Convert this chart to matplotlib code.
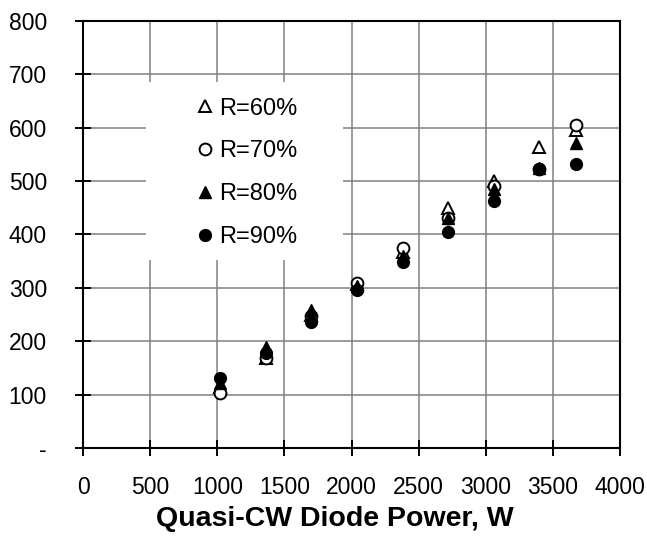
import matplotlib
matplotlib.use("Agg")
import matplotlib.pyplot as plt
from matplotlib.patches import Rectangle

plt.rcParams['font.family'] = ['Liberation Sans', 'DejaVu Sans']

# Data
diode_power = [1020, 1360, 1700, 2040, 2380, 2720, 3060, 3400, 3670]
r60 = [115, 168, 250, 308, 368, 449, 500, 563, 595]
r70 = [103, 168, 248, 309, 375, 430, 490, 522, 605]
r80 = [122, 190, 258, 303, 360, 430, 485, 524, 571]
r90 = [131, 178, 236, 296, 348, 405, 462, 522, 532]

x_ticks = [0, 500, 1000, 1500, 2000, 2500, 3000, 3500, 4000]
y_ticks = [0, 100, 200, 300, 400, 500, 600, 700, 800]
y_tick_labels = ['-', '100', '200', '300', '400', '500', '600', '700', '800']

fig = plt.figure(figsize=(6.47, 5.45), dpi=100)
ax = fig.add_axes([0.1283, 0.178, 0.83, 0.7835])

ms = 9
ax.plot(diode_power, r60, linestyle='none', marker='^', ms=ms, mfc='white', mec='black', mew=1.4, label='R=60%', zorder=3)
ax.plot(diode_power, r70, linestyle='none', marker='o', ms=ms - 0.5, mfc='white', mec='black', mew=1.4, label='R=70%', zorder=3)
ax.plot(diode_power, r80, linestyle='none', marker='^', ms=ms, mfc='black', mec='black', label='R=80%', zorder=3)
ax.plot(diode_power, r90, linestyle='none', marker='o', ms=ms - 0.5, mfc='black', mec='black', label='R=90%', zorder=3)

ax.set_xlim(0, 4000)
ax.set_ylim(0, 800)
ax.set_xticks(x_ticks)
ax.set_yticks(y_ticks)
ax.set_yticklabels(y_tick_labels)

ax.grid(True, color='#808080', linewidth=1.1, zorder=0)
ax.set_axisbelow(True)
for s in ax.spines.values():
    s.set_linewidth(1.5)
    s.set_color('black')
ax.tick_params(direction='inout', length=12, width=1.4, labelsize=16.5, color='black')
ax.tick_params(axis='y', pad=20)
ax.tick_params(axis='x', pad=14)

ax.set_xlabel('Quasi-CW Diode Power, W', fontsize=20.5, fontweight='bold', labelpad=6)
ax.xaxis.set_label_coords(0.469, -0.135)

# white block behind the legend
ax.add_patch(Rectangle((0.117, 0.44), 0.367, 0.417, transform=ax.transAxes,
                       facecolor='white', edgecolor='none', zorder=1))
leg = ax.legend(loc='upper left', bbox_to_anchor=(0.1825, 0.859), frameon=False,
                fontsize=17, handlelength=0.6, handletextpad=0.3, labelspacing=0.88,
                borderpad=0.2)

fig.savefig('out.png', dpi=100)
